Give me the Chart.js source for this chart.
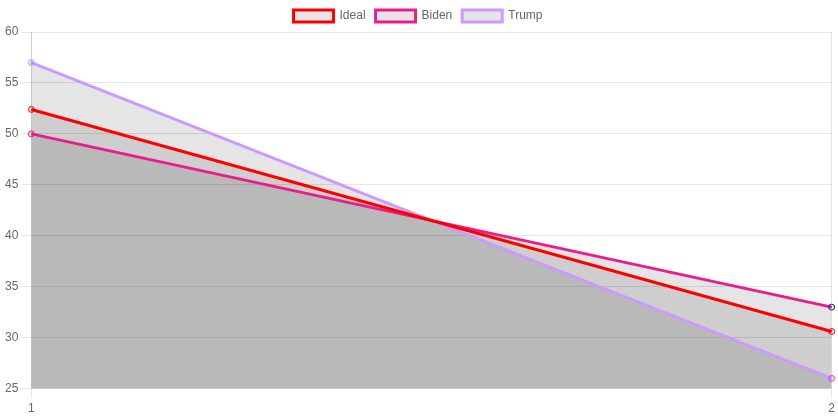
<!DOCTYPE html>
<html>
<head>
<meta charset="utf-8">
<script src="https://cdn.jsdelivr.net/npm/chart.js@4"></script>
<style>
  html, body { margin: 0; padding: 0; background: #fff; }
  #wrap { width: 838px; height: 419px; }
</style>
</head>
<body>
<div id="wrap"><canvas id="lineChart"></canvas></div>
<script>
var labels = ['1', '2'];
var ideal = [52.4, 30.6];
var biden = [50, 33];
var trump = [57, 26];

Chart.defaults.font.family = "'Liberation Sans', Arial, sans-serif";
Chart.defaults.color = '#666';

var ctx = document.getElementById('lineChart').getContext('2d');

var myLineChart = new Chart(ctx, {
    type: 'line',
    data: {
      labels: labels,
      datasets: [{
          label: 'Ideal',
          data: ideal,
          borderColor: 'rgb(255, 0, 0)',
          backgroundColor: 'rgba(0, 0, 0, 0.1)',
          pointBorderColor: ['rgb(255, 0, 0)', 'rgb(255, 0, 0)'],
          borderWidth: 3,
          fill: 'origin'
        }, {
          label: 'Biden',
          data: biden,
          borderColor: 'rgb(233, 30, 140)',
          backgroundColor: 'rgba(0, 0, 0, 0.1)',
          pointBorderColor: ['rgb(233, 30, 140)', 'rgb(40, 40, 110)'],
          borderWidth: 3,
          fill: 'origin'
        }, {
          label: 'Trump',
          data: trump,
          borderColor: 'rgb(204, 153, 255)',
          backgroundColor: 'rgba(0, 0, 0, 0.1)',
          pointBorderColor: ['rgb(204, 153, 255)', 'rgb(230, 60, 240)'],
          borderWidth: 3,
          fill: 'origin'
      }]
    },
    options: {
        responsive: true,
        maintainAspectRatio: false,
        animation: false,
        layout: { padding: { left: 2, right: 4 } },
        datasets: {
          line: {
            pointRadius: 3,
            pointBorderWidth: 1,
            pointBackgroundColor: 'rgba(0, 0, 0, 0.1)'
          }
        },
        elements: {
          line: { tension: 0 }
        },
        plugins: {
          filler: { drawTime: 'beforeDatasetsDraw' },
          legend: {
            position: 'top',
            labels: { boxWidth: 40, font: { size: 12 } }
          }
        },
        scales: {
          x: {
            grid: { color: 'rgba(0, 0, 0, 0.1)', tickLength: 10 },
            ticks: { font: { size: 12 }, padding: 3 }
          },
          y: {
            min: 25,
            max: 60,
            grid: { color: 'rgba(0, 0, 0, 0.1)', tickLength: 10 },
            ticks: { stepSize: 5, font: { size: 12 }, padding: 3 }
          }
        }
    }
});
</script>
</body>
</html>
